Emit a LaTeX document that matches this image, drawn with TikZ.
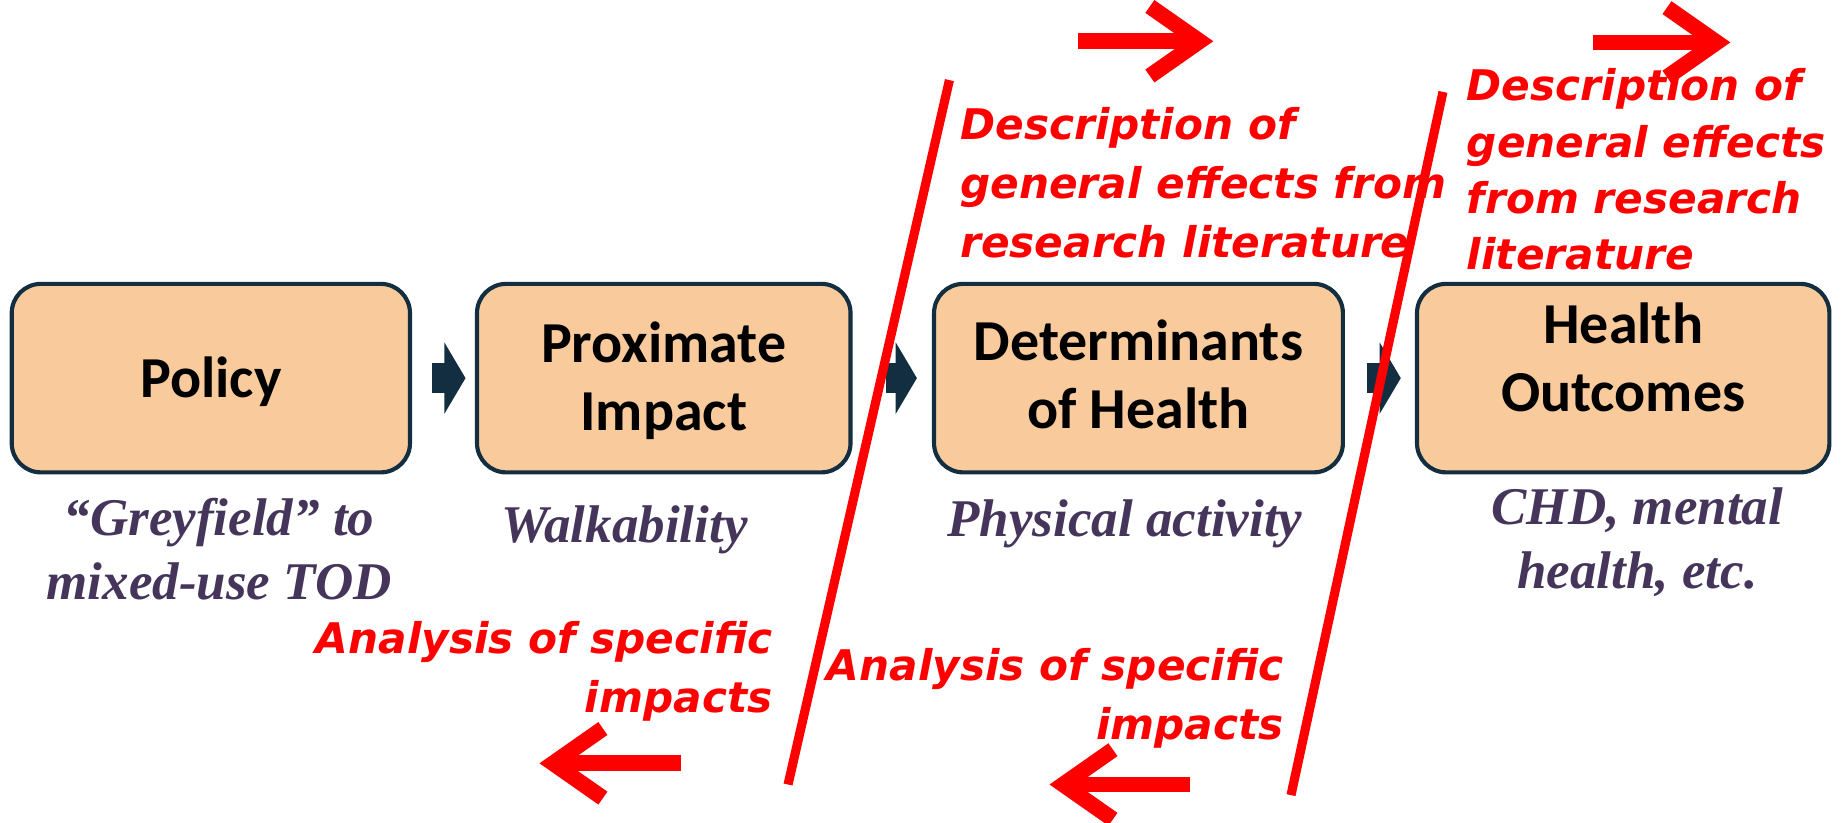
\documentclass[tikz,border=0pt]{standalone}
\usepackage{fontspec}
\usetikzlibrary{arrows.meta}
\newfontfamily\boxfont{Carlito}
\newfontfamily\notefont{Liberation Serif}
\newfontfamily\handfont{DejaVu Sans}
\definecolor{peach}{RGB}{249,203,156}
\definecolor{navy}{RGB}{19,46,64}
\definecolor{plum}{RGB}{69,53,90}
% move a box label up or down without changing the box
\newcommand\shiftlabel[2]{\raisebox{#1}[\height][\depth]{\begin{tabular}{@{}c@{}}#2\end{tabular}}}

\begin{document}
\begin{tikzpicture}[x=0.025cm,y=-0.025cm,
  stage/.style={draw=navy,fill=peach,line width=2.5pt,rounded corners=0.62cm,minimum height=4cm,align=center,font=\boxfont\bfseries\fontsize{35}{41}\selectfont},
  link/.style={draw=navy,line width=0.65cm,-{Triangle[length=0.45cm,width=1.5cm]}},
  example/.style={text=plum,align=center,font=\notefont\bfseries\itshape\fontsize{32}{38.5}\selectfont},
  remark/.style={text=red,inner sep=0pt,font=\handfont\bfseries\itshape\fontsize{25.5}{35.5}\selectfont},
  divider/.style={draw=red,line width=5.5pt},
  flow/.style={draw=red,line width=9.5pt,-{Straight Barb[length=30pt,width=42pt]}}]
\useasboundingbox (0,0) rectangle (1568,698);

% the four stages
\node[stage,minimum width=8.45cm] (policy) at (179,321) {\shiftlabel{-3.5pt}{Policy}};
\node[stage,minimum width=7.925cm] (proximate) at (563.5,321) {\shiftlabel{-3pt}{Proximate\\Impact}};
\node[stage,minimum width=8.675cm] (determinants) at (966.5,321) {\shiftlabel{-1.5pt}{Determinants\\of Health}};
\node[stage,minimum width=8.75cm] (outcomes) at (1378,321) {\shiftlabel{8.5pt}{Health\\Outcomes}};

\draw[link,shorten <=0.42cm,shorten >=0.2cm] (policy) -- (proximate);
\draw[link,shorten <=0.7cm,shorten >=0.32cm] (proximate) -- (determinants);
\draw[link,shorten <=0.47cm,shorten >=0.3cm] (determinants) -- (outcomes);

% examples under the stages
\node[example] (greyfield) at (186,466) {“Greyfield” to\\mixed-use TOD};
\node[example] (walk) at (530,450) {Walkability};
\node[example] (activity) at (955,445) {Physical activity};
\node[example] (chd) at (1390,460) {CHD, mental\\health, etc.};

% annotations
\node[remark,anchor=north west,align=left] (general1) at (815,91)
  {Description of\\general effects from\\research literature};
\node[remark,anchor=north west,align=left,font=\handfont\bfseries\itshape\fontsize{25.5}{34}\selectfont] (general2) at (1245,58)
  {Description of\\general effects\\from research\\literature};
\node[remark,anchor=north east,align=right] (specific1) at (656,527)
  {Analysis of specific\\impacts};
\node[remark,anchor=north east,align=right] (specific2) at (1090,550)
  {Analysis of specific\\impacts};

\coordinate (cut1top) at (806,68);
\coordinate (cut1bot) at (669,666);
\coordinate (cut2top) at (1225,78);
\coordinate (cut2bot) at (1096,675);
\draw[divider] (cut1top) -- (cut1bot);
\draw[divider] (cut2top) -- (cut2bot);

\foreach \from/\to/\y [count=\k] in {915/1030/35,1352/1469/36} {
  \coordinate (up\k) at (\from,\y);
  \coordinate (uptip\k) at (\to,\y);
  \draw[flow] (up\k) -- (uptip\k);
}
\foreach \from/\to/\y [count=\k] in {578/458/648,1010/891/666} {
  \coordinate (down\k) at (\from,\y);
  \coordinate (downtip\k) at (\to,\y);
  \draw[flow] (down\k) -- (downtip\k);
}
\end{tikzpicture}
\end{document}
